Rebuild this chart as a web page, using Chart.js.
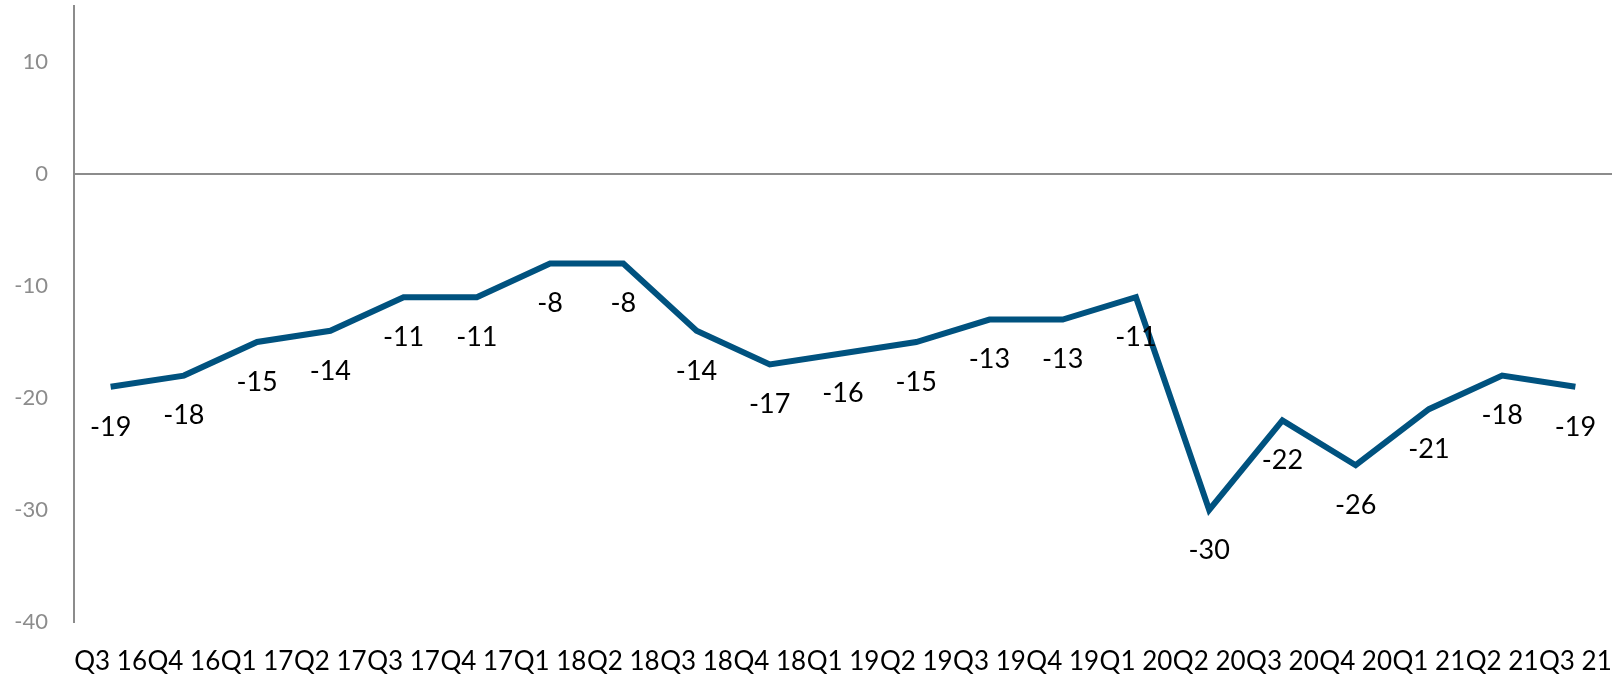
<!DOCTYPE html>
<html>
<head>
<meta charset="utf-8">
<script src="https://cdn.jsdelivr.net/npm/chart.js@4/dist/chart.umd.min.js"></script>
<style>
  html, body { margin: 0; padding: 0; background: #ffffff; }
  #wrap { width: 1612px; height: 675px; position: relative; }
</style>
</head>
<body>
<div id="wrap"><canvas id="c" width="1612" height="675"></canvas></div>
<script>
const categories = ['Q3 16','Q4 16','Q1 17','Q2 17','Q3 17','Q4 17','Q1 18','Q2 18','Q3 18','Q4 18','Q1 19','Q2 19','Q3 19','Q4 19','Q1 20','Q2 20','Q3 20','Q4 20','Q1 21','Q2 21','Q3 21'];
const values = [-19,-18,-15,-14,-11,-11,-8,-8,-14,-17,-16,-15,-13,-13,-11,-30,-22,-26,-21,-18,-19];
const yTicks = [-40,-30,-20,-10,0,10];

const FONT = 'Lato, "Open Sans", sans-serif';

const valueLabels = {
  id: 'valueLabels',
  afterDatasetsDraw(chart) {
    const ctx = chart.ctx;
    const meta = chart.getDatasetMeta(0);
    ctx.save();
    ctx.font = '27px ' + FONT;
    ctx.fillStyle = '#000000';
    ctx.textAlign = 'center';
    ctx.textBaseline = 'middle';
    meta.data.forEach((pt, i) => {
      ctx.fillText(String(values[i]), pt.x, pt.y + 40);
    });
    ctx.restore();
  }
};

new Chart(document.getElementById('c'), {
  type: 'line',
  data: {
    labels: categories,
    datasets: [{
      data: values,
      borderColor: '#00527F',
      backgroundColor: '#00527F',
      borderWidth: 6,
      pointRadius: 0,
      pointHoverRadius: 0,
      tension: 0,
      fill: false
    }]
  },
  options: {
    responsive: false,
    animation: false,
    events: [],
    layout: { padding: { top: 6, right: 0, bottom: 0, left: 0 } },
    plugins: { legend: { display: false }, tooltip: { enabled: false } },
    scales: {
      x: {
        offset: true,
        grid: { display: false, drawTicks: false },
        border: { display: false },
        ticks: {
          autoSkip: false, maxRotation: 0, minRotation: 0,
          color: '#000000',
          font: { family: FONT, size: 26 },
          padding: 24
        },
        afterFit(scale) {
          scale.height = 53;
          scale.paddingLeft = 0;
          scale.paddingRight = 0;
        }
      },
      y: {
        min: -40,
        max: 15,
        afterBuildTicks(scale) {
          scale.ticks = yTicks.map(v => ({ value: v }));
        },
        grid: {
          drawTicks: false,
          color: (c) => (c.tick && c.tick.value === 0) ? '#8c8c8c' : 'rgba(0,0,0,0)',
          lineWidth: 2
        },
        border: { display: true, color: '#8c8c8c', width: 2 },
        ticks: {
          color: '#8c8c8c',
          font: { family: FONT, size: 22 },
          padding: 26
        },
        afterFit(scale) {
          scale.width = 74;
          scale.paddingTop = 0;
          scale.paddingBottom = 0;
        }
      }
    }
  },
  plugins: [valueLabels]
});
</script>
</body>
</html>
